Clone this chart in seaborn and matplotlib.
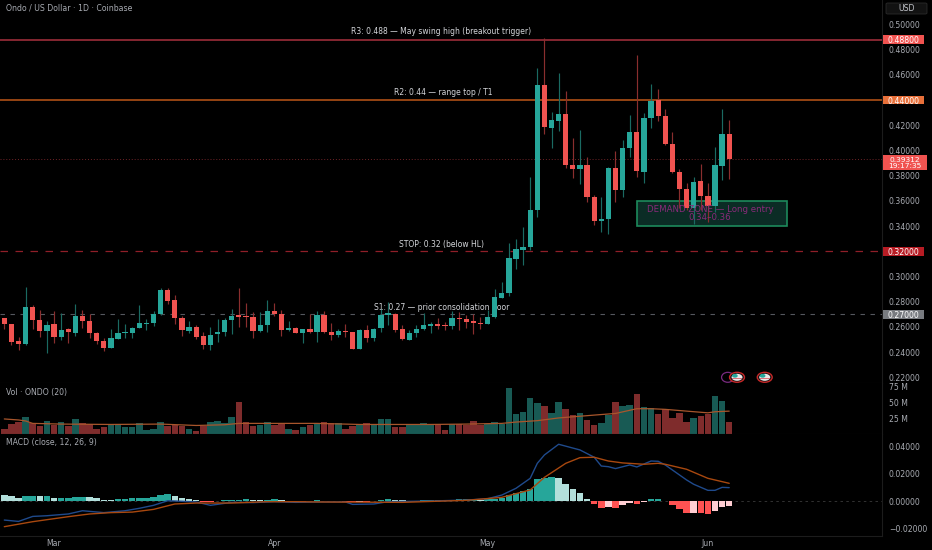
import numpy as np
import pandas as pd
import matplotlib
matplotlib.use("Agg")
import matplotlib.pyplot as plt
from matplotlib.patches import Rectangle, Ellipse, FancyBboxPatch
import seaborn as sns

# candles (daily, Feb 22 -> Jun 4)
opens = [.2668,.2621,.2486,.2462,.2755,.2658,.2565,.2621,.2520,.2581,.2554,.2689,.2647,.2554,.2488,.2435,.2507,.2552,.2554,.2591,
         .2626,.2629,.2700,.2890,.2811,.2671,.2570,.2602,.2525,.2454,.2544,.2560,.2655,.2692,.2687,.2679,.2570,.2613,.2724,.2700,
         .2573,.2591,.2552,.2584,.2557,.2697,.2557,.2539,.2568,.2562,.2425,.2576,.2512,.2589,.2695,.2703,.2581,.2499,.2552,.2581,
         .2610,.2623,.2618,.2610,.2671,.2660,.2644,.2634,.2623,.2676,.2832,.2872,.3142,.3211,.3234,.3525,.4517,.4181,.4237,.4290,
         .3885,.3856,.3885,.3628,.3443,.3456,.3861,.3686,.4017,.4144,.3832,.4261,.4401,.4274,.4049,.3827,.3692,.3541,.3755,.3636,
         .3559,.3880,.4133]
closes = [.2621,.2480,.2462,.2755,.2658,.2565,.2615,.2520,.2576,.2557,.2689,.2644,.2554,.2488,.2435,.2509,.2552,.2557,.2591,.2629,
          .2631,.2703,.2893,.2806,.2671,.2576,.2602,.2523,.2454,.2539,.2560,.2655,.2689,.2681,.2679,.2570,.2613,.2724,.2703,.2576,
          .2594,.2554,.2584,.2557,.2697,.2557,.2539,.2565,.2562,.2422,.2576,.2512,.2586,.2697,.2708,.2578,.2504,.2552,.2584,.2613,
          .2623,.2607,.2607,.2668,.2660,.2639,.2634,.2623,.2676,.2835,.2872,.3144,.3216,.3237,.3525,.4522,.4184,.4239,.4290,.3885,
          .3856,.3885,.3631,.3443,.3459,.3864,.3686,.4017,.4144,.3837,.4258,.4393,.4274,.4049,.3827,.3692,.3541,.3753,.3636,.3559,
          .3882,.4133,.3931]
highs = [.2674,.2623,.2517,.2920,.2771,.2734,.2647,.2726,.2708,.2589,.2782,.2734,.2703,.2557,.2515,.2581,.2660,.2623,.2597,.2774,
         .2660,.2726,.2906,.2912,.2853,.2687,.2644,.2615,.2560,.2602,.2663,.2671,.2740,.2909,.2787,.2716,.2721,.2814,.2787,.2734,
         .2647,.2597,.2584,.2703,.2726,.2729,.2629,.2586,.2621,.2562,.2584,.2615,.2591,.2740,.2800,.2708,.2615,.2576,.2615,.2713,
         .2636,.2673,.2636,.2729,.2721,.2692,.2703,.2676,.2734,.2898,.2957,.3264,.3295,.3390,.3792,.4652,.4890,.4303,.4612,.4472,
         .4096,.4163,.3945,.3646,.3633,.3871,.3996,.4083,.4282,.4758,.4300,.4525,.4488,.4327,.4144,.3850,.3745,.3787,.3890,.3739,
         .4030,.4329,.4242]
lows = [.2586,.2454,.2417,.2457,.2583,.2517,.2396,.2475,.2494,.2475,.2525,.2591,.2515,.2464,.2409,.2435,.2504,.2515,.2509,.2591,
        .2576,.2605,.2695,.2782,.2621,.2528,.2554,.2507,.2425,.2419,.2480,.2528,.2544,.2597,.2599,.2512,.2562,.2562,.2684,.2525,
        .2565,.2549,.2472,.2549,.2480,.2549,.2494,.2517,.2520,.2422,.2425,.2483,.2488,.2560,.2613,.2557,.2499,.2499,.2520,.2573,
        .2552,.2581,.2576,.2583,.2576,.2591,.2544,.2586,.2621,.2671,.2827,.2848,.3062,.3092,.3210,.3469,.4131,.4022,.4155,.3864,
        .3784,.3737,.3594,.3408,.3350,.3337,.3588,.3633,.3951,.3792,.3745,.4181,.4237,.4044,.3824,.3541,.3528,.3414,.3528,.3435,
        .3514,.3766,.3773]
volume = [8.1,16.2,18.4,27,17.3,11.9,21.1,13.5,19.5,13,24.3,17.3,16.2,8.1,10.3,13.5,15.1,10.3,10.8,17.9,
          6.5,8.7,18.4,11.9,14.1,13,8.7,5.4,13,18.9,20.6,17.9,27.6,50.3,19.5,13,13.5,18.4,13.5,16.2,
          8.7,6.5,10.8,14.6,16.2,18.9,17.3,16.8,8.1,13,15.1,17.3,15.7,24.3,23.8,11.4,11.4,14.1,14.1,17.3,
          14.1,15.1,6.5,15.1,15.1,13.5,20.6,13.5,16.2,18.9,16.2,72.5,31.9,35.2,56.8,49.8,43.8,33.5,50.9,40,
          30.3,32.5,22.2,13.5,17.9,30.3,51.4,44.4,45.4,63.3,43.3,41.7,31.9,39,25.4,32.5,19.5,25.4,28.7,31.4,
          60.6,53,18.9]
hist = [.0047,.0035,.0025,.0035,.0040,.0035,.0035,.0025,.0025,.0025,.0030,.0030,.0027,.0020,.0010,.0007,.0012,.0015,.0020,.0022,
        .0025,.0030,.0047,.0049,.0040,.0025,.0015,.0005,-.0005,-.0007,-.0002,.0005,.0007,.0010,.0012,.0007,.0005,.0007,.0012,.0007,
        .0002,-.0002,-.0005,-.0002,.0005,-.0002,-.0002,-.0001,-.0005,-.0010,-.0007,-.0009,-.0002,.0005,.0012,.0011,.0005,.0002,.0002,.0005,
        .0007,.0007,.0007,.0010,.0012,.0012,.0012,.0010,.0012,.0015,.0022,.0044,.0059,.0072,.0091,.0161,.0173,.0175,.0168,.0124,
        .0086,.0057,.0017,-.0025,-.0052,-.0042,-.0049,-.0030,-.0017,-.0022,-.0007,.0017,.0018,.0002,-.0030,-.0059,-.0086,-.0086,-.0091,-.0096,
        -.0077,-.0042,-.0035]
hist_before_start = .0052

# indicator lines, read at the visible bends
vol_ma_x = [0,2,3,4,8,15,22,27,31,33,40,44,50,60,65,70,72,75,78,81,84,86,89,91,93,96,99,100,102]
vol_ma = [23.8,22.2,20.6,16.8,15.7,15.1,15.7,13.5,14.6,16.8,16.8,16.8,15.1,15.1,15.7,16.8,18.9,21.1,25.4,28.1,30.8,32.5,40,40,39,36.2,33.5,35.2,36.2]
macd_x = [0,2,4,6,9,11,14,17,19,21,23,25,27,29,32,35,38,41,44,48,49,52,54,60,65,68,70,72,74,75,76,78,81,83,84,85,86,88,89,91,92,93,96,97,99,100,101,102]
macd = [-.0141,-.0151,-.0114,-.0109,-.0096,-.0072,-.0086,-.0072,-.0054,-.0032,.0002,-.0002,-.0007,-.0032,-.0010,-.0012,-.0005,-.0010,-.0007,-.0007,-.0025,-.0022,-.0005,0,.0007,.0017,.0044,.0094,.0168,.0279,.0341,.0420,.0378,.0324,.0259,.0254,.0240,.0267,.0252,.0296,.0294,.0267,.0156,.0124,.0079,.0079,.0101,.0099]
signal_x = [0,4,9,12,15,18,21,24,27,32,37,41,44,56,65,70,74,76,79,81,83,85,87,90,92,93,96,99,102]
signal = [-.0190,-.0153,-.0116,-.0096,-.0086,-.0082,-.0062,-.0022,-.0015,-.0015,-.0005,-.0005,-.0007,-.0010,.0005,.0027,.0082,.0175,.0279,.0321,.0324,.0296,.0282,.0272,.0279,.0272,.0235,.0168,.0131]

price_ticks = [.22,.24,.26,.28,.30,.32,.34,.36,.38,.40,.42,.44,.46,.48,.50]
vol_ticks = [25,50,75]
macd_ticks = [-.02,0,.02,.04]
month_days = [7,38,68,99]
month_labels = ["Mar","Apr","May","Jun"]

UP, DOWN = "#26a69a", "#f05350"
TXT = "#a8abb2"
W, H = 932, 550
AXIS_X = 882

sns.set_theme(style="dark", rc={"figure.facecolor": "black", "axes.facecolor": "black",
                                "axes.edgecolor": "#1c1c1c", "font.size": 5.5})
plt.rcParams["font.family"] = ["DejaVu Sans"]

fig = plt.figure(figsize=(W / 100, H / 100), dpi=100)


def pane(top, bottom):
    ax = fig.add_axes([0, 1 - bottom / H, AXIS_X / W, (bottom - top) / H])
    ax.set_xlim(-0.605, 123.5)
    ax.yaxis.tick_right()
    ax.tick_params(axis="y", length=0, pad=5, labelsize=5.6, labelcolor=TXT)
    ax.tick_params(axis="x", length=0, labelbottom=False)
    for side in ["top", "left"]:
        ax.spines[side].set_visible(False)
    for side in ["right", "bottom"]:
        ax.spines[side].set_color("#1c1c1c")
        ax.spines[side].set_linewidth(0.8)
    return ax


ax = pane(0, 383)
ax_vol = pane(383, 434)
ax_macd = pane(434, 536)

days = np.arange(len(closes))
o = np.array(opens)
c = np.array(closes)
is_up = c >= o

# main pane
ax.set_ylim(.21548, .51944)
ax.set_yticks(price_ticks)
ax.set_yticklabels([f"{t:.5f}" for t in price_ticks])

ax.axhline(.488, color="#8f2a35", lw=1.3, zorder=1)
ax.axhline(.44, color="#a14a14", lw=1.3, zorder=1)
ax.axhline(.32, color="#8f1f28", lw=0.9, dashes=(6, 6), zorder=1)
ax.axhline(.27, color="#55585e", lw=0.8, dashes=(4, 5), zorder=1)
ax.axhline(.3931, color="#6e2327", lw=0.7, dashes=(1, 2), zorder=1)

label_kw = dict(ha="center", va="bottom", color="#d4d6da", fontsize=5.5, zorder=1)
ax.text(61.5, .4907, "R3: 0.488 — May swing high (breakout trigger)", **label_kw)
ax.text(61.7, .4421, "R2: 0.44 — range top / T1", **label_kw)
ax.text(61.5, .3221, "STOP: 0.32 (below HL)", **label_kw)
ax.text(61.5, .2718, "S1: 0.27 — prior consolidation floor", **label_kw)

ax.add_patch(Rectangle((89, .34), 21.1, .02, facecolor="#0b2c25", edgecolor="#1d8a5c", lw=1.2, zorder=2))

wick_colors = np.where(is_up, "#1a6a62", "#8a2e2e")
body_colors = np.where(is_up, UP, DOWN)
ax.vlines(days, lows, highs, colors=wick_colors, lw=0.85, zorder=3)
ax.bar(days, np.maximum(np.abs(c - o), .0006), bottom=np.minimum(o, c), width=0.74, color=body_colors, lw=0, zorder=4)

ax.text(99.3, .3497, "DEMAND ZONE — Long entry\n0.34–0.36", ha="center", va="center", color="#8a2a7a",
        fontsize=6.2, linespacing=0.85, zorder=5)

# event markers at the bottom of the price pane
ax.add_patch(Ellipse((101.8, .22), 1.75, .0079, facecolor="none", edgecolor="#7a2a80", lw=0.9, zorder=6))
for d in [103.1, 107.0]:
    ax.add_patch(Ellipse((d, .22), 2.1, .0079, facecolor="#101010", edgecolor="#c62828", lw=1.0, zorder=6))
    ax.add_patch(Ellipse((d, .22), 1.55, .0056, facecolor="#e8e8e8", lw=0, zorder=7))
    ax.add_patch(Ellipse((d - .3, .2212), .8, .0030, facecolor=UP, lw=0, zorder=8))
    ax.add_patch(Rectangle((d - .7, .2188), 1.4, .0006, facecolor="#d9707a", lw=0, zorder=8))


def price_tag(axis, value, text, color, tag_h=.0068, w=41):
    tr = axis.get_yaxis_transform()
    axis.add_patch(Rectangle((1.001, value - tag_h / 2), w / AXIS_X, tag_h, transform=tr, facecolor=color,
                             edgecolor="none", clip_on=False, zorder=10))
    axis.text(1.001 + w / AXIS_X / 2, value, text, transform=tr, ha="center", va="center_baseline", color="white",
              fontsize=5.6, clip_on=False, zorder=11)


price_tag(ax, .488, "0.48800", DOWN)
price_tag(ax, .44, "0.44000", "#e8703a")
price_tag(ax, .32, "0.32000", "#b71c24")
price_tag(ax, .27, "0.27000", "#787b80")

tr = ax.get_yaxis_transform()
ax.add_patch(Rectangle((1.001, .3847), 44 / AXIS_X, .0119, transform=tr, facecolor=DOWN, edgecolor="none",
                       clip_on=False, zorder=10))
ax.text(1.001 + 22 / AXIS_X, .3903, "0.39312\n19:17:35", transform=tr, ha="center", va="center", color="white",
        fontsize=5.4, linespacing=1.0, clip_on=False, zorder=11)

fig.patches.append(FancyBboxPatch((886 / W, 1 - 14 / H), 41 / W, 11 / H, boxstyle="round,pad=0,rounding_size=0.002",
                                  transform=fig.transFigure, facecolor="#121212", edgecolor="#2a2a2a", lw=0.6))
fig.text(906.5 / W, 1 - 8.5 / H, "USD", ha="center", va="center", color="#c4c6cc", fontsize=5.6)
fig.text(6 / W, 1 - 8 / H, "Ondo / US Dollar · 1D · Coinbase", ha="left", va="center", color=TXT, fontsize=5.6)

# volume pane
vol_df = pd.DataFrame({"day": days, "vol": volume, "side": np.where(is_up, "up", "down")})
sns.barplot(data=vol_df, x="day", y="vol", hue="side", palette={"up": "#185a54", "down": "#7f2c2c"}, dodge=False,
            native_scale=True, width=0.92, linewidth=0, saturation=1, legend=False, ax=ax_vol)
sns.lineplot(x=vol_ma_x, y=vol_ma, color="#a8562c", lw=0.9, errorbar=None, ax=ax_vol)
ax_vol.set_xlim(-0.605, 123.5)
ax_vol.set_ylim(0, 80.7)
ax_vol.set_yticks(vol_ticks)
ax_vol.set_yticklabels([f"{t} M" for t in vol_ticks])
ax_vol.set(xlabel=None, ylabel=None)
fig.text(6 / W, 1 - 392 / H, "Vol · ONDO (20)", ha="left", va="center", color=TXT, fontsize=5.6)

# macd pane, histogram colours follow the rising / falling rule
prev = np.r_[hist_before_start, hist[:-1]]
h = np.array(hist)
state = np.select([(h >= 0) & (h >= prev), h >= 0, h >= prev], ["rise_pos", "fall_pos", "rise_neg"], "fall_neg")
hist_df = pd.DataFrame({"day": days, "hist": hist, "state": state})
sns.barplot(data=hist_df, x="day", y="hist", hue="state", dodge=False, native_scale=True, width=0.92, linewidth=0,
            palette={"rise_pos": UP, "fall_pos": "#b2dfdb", "rise_neg": "#ffcdd2", "fall_neg": "#ff5252"},
            saturation=1, legend=False, ax=ax_macd)
sns.lineplot(x=macd_x, y=macd, color="#1f4a8c", lw=1.0, errorbar=None, ax=ax_macd)
sns.lineplot(x=signal_x, y=signal, color="#a8480f", lw=1.0, errorbar=None, ax=ax_macd)
ax_macd.axhline(0, color="#3a3a3a", lw=0.6, dashes=(3, 4), zorder=0)
ax_macd.set_xlim(-0.605, 123.5)
ax_macd.set_ylim(-.0259, .0496)
ax_macd.set_yticks(macd_ticks)
ax_macd.set_yticklabels(["\u22120.02000", "0.00000", "0.02000", "0.04000"])
ax_macd.set(xlabel=None, ylabel=None)
ax_macd.set_xticks(month_days)
ax_macd.set_xticklabels(month_labels)
ax_macd.tick_params(axis="x", labelbottom=True, labelsize=5.6, labelcolor=TXT, length=0, pad=2)
fig.text(6 / W, 1 - 442 / H, "MACD (close, 12, 26, 9)", ha="left", va="center", color=TXT, fontsize=5.6)

fig.savefig("out.png", dpi=100, facecolor="black")
